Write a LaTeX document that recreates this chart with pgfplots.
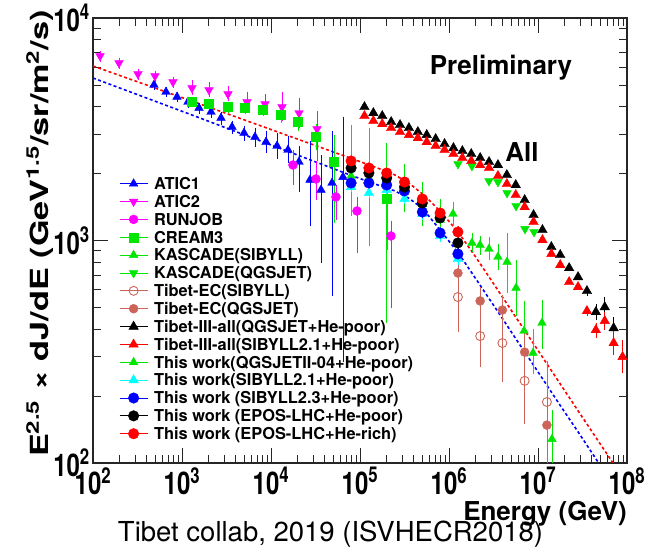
\documentclass[border=0pt]{standalone}
\usepackage{fontspec}
\setmainfont{TeX Gyre Heros}
\usepackage{graphicx}
\usepackage{pgfplots}
\pgfplotsset{compat=1.18}
\definecolor{cblue}{RGB}{0,0,255}
\definecolor{cmag}{RGB}{255,0,255}
\definecolor{cgreen}{RGB}{0,230,0}
\definecolor{cec}{RGB}{205,100,90}
\definecolor{cred}{RGB}{255,0,0}
\definecolor{ccyan}{RGB}{0,255,255}
\newcommand{\tl}[1]{\scalebox{1}[1.3]{10\textsuperscript{#1}}}
\begin{document}
\begin{tikzpicture}[x=1pt,y=1pt]
\useasboundingbox (0,0) rectangle (654,549);
\begin{axis}[
  at={(93pt,86pt)}, anchor=south west,
  width=534pt, height=445pt, scale only axis,
  xmode=log, ymode=log,
  xmin=100, xmax=1e8, ymin=100, ymax=1e4,
  axis line style={line width=1.1pt, black!85},
  tick style={line width=0.8pt, black!85},
  major tick length=15pt, minor tick length=8pt,
  tick align=inside,
  xtick={1e2,1e3,1e4,1e5,1e6,1e7,1e8},
  xticklabels={\tl{2},\tl{3},\tl{4},\tl{5},\tl{6},\tl{7},\tl{8}},
  ytick={1e2,1e3,1e4},
  yticklabels={\tl{2},\tl{3},\tl{4}},
  minor xtick={2e2,3e2,4e2,5e2,6e2,7e2,8e2,9e2,2e3,3e3,4e3,5e3,6e3,7e3,8e3,9e3,2e4,3e4,4e4,5e4,6e4,7e4,8e4,9e4,2e5,3e5,4e5,5e5,6e5,7e5,8e5,9e5,2e6,3e6,4e6,5e6,6e6,7e6,8e6,9e6,2e7,3e7,4e7,5e7,6e7,7e7,8e7,9e7},
  minor ytick={200,300,400,500,600,700,800,900,2000,3000,4000,5000,6000,7000,8000,9000},
  xticklabel style={font=\bfseries\fontsize{24}{24}\selectfont, inner sep=0pt, yshift=-4pt},
  yticklabel style={font=\bfseries\fontsize{24}{24}\selectfont, inner sep=3pt},
  error bars/error bar style={line width=0.6pt},
  error bars/error mark options={mark size=1.5pt, line width=0.6pt},
  legend image code/.code={
    \draw[solid, line width=0.8pt] (0pt,0pt) -- (28pt,0pt);
    \draw[mark repeat=2,mark phase=2] plot coordinates {(0pt,0pt) (14pt,0pt) (28pt,0pt)};
  },
  legend cell align=left,
  legend style={at={(0.0487,0.641)}, anchor=north west, draw=none, fill=none,
    inner sep=0pt, row sep=6.36pt,
    font=\bfseries\fontsize{16.4}{16.4}\selectfont,
    nodes={inner sep=0pt, text height=11.5pt, text depth=0pt},
    /tikz/every odd column/.append style={column sep=6pt}},
]
% fit lines
\addplot[forget plot, cred, line width=1.6pt, dash pattern=on 3pt off 2.5pt] coordinates {
(100,6085) (1593,4108) (21170,2830) (77200,2349) (147400,2139) (247400,1970) (364700,1795) (537500,1585) (813300,1343) (1.262e6,1092) (1.960e6,852) (3.288e6,625) (5.515e6,458) (9.254e6,336) (1.552e7,246) (2.604e7,180) (4.369e7,132) (6.962e7,100)};
\addplot[forget plot, cblue, line width=1.6pt, dash pattern=on 3pt off 2.5pt] coordinates {
(100,5375) (1593,3552) (21170,2398) (77200,1970) (147400,1795) (247400,1669) (364700,1537) (510500,1385) (813300,1103) (1.295e6,870) (2.23e6,631) (3.741e6,463) (6.28e6,339) (1.053e7,249) (1.767e7,182) (2.965e7,134) (4.723e7,101)};
% ATIC1
\addplot[cblue, only marks, mark=triangle*, mark size=5pt, error bars/.cd, y dir=both, y explicit] table[x=x,y=y,y error plus=ep,y error minus=em] {
x y ep em
484 5000 155 155
661 4650 146 146
879 4418 139 139
1167 4194 175 175
1552 3940 166 166
2118 3781 160 160
2743 3552 185 185
3646 3236 168 168
4975 3041 190 190
6610 2918 252 232
8790 2771 302 272
11680 2659 351 310
15520 2552 337 298
20630 2254 351 568
27420 1872 872 697
36450 1688 685 887
48450 1813 1229 1244
64400 1928 1622 1638
};
\addlegendentry{ATIC1}
% ATIC2
\addplot[cmag, only marks, mark=triangle*, mark size=5pt, mark options={rotate=180}, error bars/.cd, y dir=both, y explicit] table[x=x,y=y,y error plus=ep,y error minus=em] {
x y ep em
120 6750 280 280
196 6278 262 262
320 5603 234 234
497 5488 229 229
792 5156 215 215
1295 4847 310 292
2011 4747 304 286
3288 4554 292 274
5376 4194 361 333
8561 4108 354 326
13290 3981 573 501
20640 3741 539 471
32880 3171 609 870
};
\addlegendentry{ATIC2}
% RUNJOB
\addplot[cmag, only marks, mark=*, mark size=4.5pt, error bars/.cd, y dir=both, y explicit] table[x=x,y=y,y error plus=ep,y error minus=em] {
x y ep em
17660 2184 315 372
32030 1890 340 353
53700 1569 171 307
92500 1357 195 469
222800 1048 162 545
};
\addlegendentry{RUNJOB}
% CREAM3
\addplot[cgreen, only marks, mark=square*, mark size=4.5pt, error bars/.cd, y dir=both, y explicit] table[x=x,y=y,y error plus=ep,y error minus=em] {
x y ep em
1295 4194 170 170
2011 4108 167 167
3288 3981 162 162
5105 3940 160 160
8128 3859 157 157
12950 3664 235 221
20110 3409 294 271
32030 2919 385 340
51050 2254 665 1042
201100 1537 354 621
};
\addlegendentry{CREAM3}
% KASCADE SIBYLL
\addplot[cgreen, only marks, mark=triangle*, mark size=5pt, error bars/.cd, y dir=both, y explicit] table[x=x,y=y,y error plus=ep,y error minus=em] {
x y ep em
1.81e6 975 84 77
2.23e6 954 82 76
2.81e6 916 100 90
3.55e6 843 111 98
4.49e6 801 258 214
5.67e6 612 189 149
6.97e6 392 137 93
8.79e6 312 80 58
1.109e7 426 104 97
1.435e7 128 43 35
};
\addlegendentry{KASCADE(SIBYLL)}
% KASCADE QGSJET
\addplot[cgreen, only marks, mark=triangle*, mark size=5pt, mark options={rotate=180}] table[x=x,y=y] {
x y
1.262e6 2207
1.81e6 2162
2.81e6 1851
3.55e6 1832
4.49e6 1635
5.67e6 1429
7.14e6 1127
9.02e6 1092
};
\addlegendentry{KASCADE(QGSJET)}
% Tibet-EC SIBYLL
\addplot[cec, only marks, mark=o, mark size=4.5pt, mark options={line width=0.9pt}, error bars/.cd, y dir=both, y explicit] table[x=x,y=y,y error plus=ep,y error minus=em] {
x y ep em
1.259e6 557 128 161
2.239e6 372 125 99
3.981e6 346 194 110
7.079e6 234 88 82
1.259e7 188 96 88
};
\addlegendentry{Tibet-EC(SIBYLL)}
% Tibet-EC QGSJET
\addplot[cec, only marks, mark=*, mark size=4.5pt, error bars/.cd, y dir=both, y explicit] table[x=x,y=y,y error plus=ep,y error minus=em] {
x y ep em
1.259e6 714 62 57
2.239e6 535 71 62
3.981e6 487 76 66
7.079e6 315 65 54
1.259e7 148 34 50
};
\addlegendentry{Tibet-EC(QGSJET)}
% Tibet-III black
\addplot[black, only marks, mark=triangle*, mark size=5.5pt, error bars/.cd, y dir=both, y explicit] table[x=x,y=y,y error plus=ep,y error minus=em] {
x y ep em
1.122e5 3981 0 0
1.413e5 3741 0 0
1.778e5 3628 0 0
2.239e5 3409 0 0
2.818e5 3305 0 0
3.548e5 3204 0 0
4.467e5 3074 0 0
5.623e5 2981 0 0
7.079e5 2859 0 0
8.913e5 2715 0 0
1.122e6 2604 0 0
1.413e6 2525 0 0
1.778e6 2448 0 0
2.239e6 2349 0 0
2.818e6 2254 0 0
3.548e6 2184 0 0
4.467e6 1970 0 0
5.623e6 1776 0 0
7.079e6 1521 0 0
8.913e6 1302 0 0
1.122e7 1115 0 0
1.413e7 935 0 0
1.778e7 861 0 0
2.239e7 752 0 0
2.818e7 685 0 0
3.548e7 593 20 20
4.467e7 477 31 29
5.623e7 502 49 45
7.079e7 404 40 36
};
\addlegendentry{Tibet-III-all(QGSJET+He-poor)}
% Tibet-III red
\addplot[cred, only marks, mark=triangle*, mark size=5.5pt, error bars/.cd, y dir=both, y explicit] table[x=x,y=y,y error plus=ep,y error minus=em] {
x y ep em
1.122e5 3628 0 0
1.413e5 3445 0 0
1.778e5 3338 0 0
2.239e5 3204 0 0
2.818e5 3074 0 0
3.548e5 2981 0 0
4.467e5 2888 0 0
5.623e5 2771 0 0
7.079e5 2659 0 0
8.913e5 2552 0 0
1.122e6 2448 0 0
1.413e6 2349 0 0
1.778e6 2277 0 0
2.239e6 2184 0 0
2.818e6 2118 0 0
3.548e6 1950 0 0
4.467e6 1795 0 0
5.623e6 1602 0 0
7.079e6 1414 0 0
8.913e6 1211 0 0
1.122e7 1005 0 0
1.413e7 870 0 0
1.778e7 776 0 0
2.239e7 651 0 0
2.818e7 618 0 0
3.548e7 482 15 15
4.467e7 396 25 24
5.623e7 435 37 34
7.079e7 346 38 34
8.913e7 300 50 43
};
\addlegendentry{Tibet-III-all(SIBYLL2.1+He-poor)}
% This work QGSJETII-04
\addplot[cgreen, only marks, mark=triangle*, mark size=5pt, error bars/.cd, y dir=both, y explicit] table[x=x,y=y,y error plus=ep,y error minus=em] {
x y ep em
79430 1950 1287 647
125900 1910 1229 955
199500 1872 816 1441
316200 1758 404 401
501200 1459 336 273
794300 1236 284 231
1.109e6 1316 143 129
};
\addlegendentry{This work(QGSJETII-04+He-poor)}
% This work SIBYLL2.1
\addplot[ccyan, only marks, mark=triangle*, mark size=5.5pt, error bars/.cd, y dir=both, y explicit] table[x=x,y=y,y error plus=ep,y error minus=em] {
x y ep em
79430 1739 70 70
125900 1635 65 65
199500 1688 68 68
316200 1537 62 62
501200 1316 55 55
794300 1048 45 45
1258900 826 38 38
};
\addlegendentry{This work(SIBYLL2.1+He-poor)}
% This work SIBYLL2.3
\addplot[cblue, only marks, mark=*, mark size=5.3pt, error bars/.cd, y dir=both, y explicit] table[x=x,y=y,y error plus=ep,y error minus=em] {
x y ep em
79430 1813 70 70
125900 1813 70 70
199500 1776 68 68
316200 1670 65 65
501200 1343 55 55
794300 1081 45 45
1258900 870 40 40
};
\addlegendentry{This work (SIBYLL2.3+He-poor)}
% This work EPOS He-poor
\addplot[black, only marks, mark=*, mark size=5.3pt, error bars/.cd, y dir=both, y explicit] table[x=x,y=y,y error plus=ep,y error minus=em] {
x y ep em
79430 2118 80 80
125900 2011 78 78
199500 1910 75 75
316200 1739 68 68
501200 1474 60 60
794300 1263 52 52
1258900 975 45 45
};
\addlegendentry{This work (EPOS-LHC+He-poor)}
% This work EPOS He-rich
\addplot[cred, only marks, mark=*, mark size=5.3pt, error bars/.cd, y dir=both, y explicit] table[x=x,y=y,y error plus=ep,y error minus=em] {
x y ep em
79430 2277 85 85
125900 2118 80 80
199500 2011 78 78
316200 1832 70 70
501200 1537 62 62
794300 1329 55 55
1258900 1092 50 50
};
\addlegendentry{This work (EPOS-LHC+He-rich)}
\end{axis}
\node[font=\bfseries\fontsize{26}{26}\selectfont] at (501,481) {Preliminary};
\node[font=\bfseries\fontsize{26}{26}\selectfont] at (522,397) {All};
\node[font=\bfseries\fontsize{26}{26}\selectfont, anchor=base east, inner sep=0pt] at (627,28) {Energy (GeV)};
\node[font=\fontsize{27.5}{27.5}\selectfont, anchor=base, inner sep=0pt] at (330.5,7) {Tibet collab, 2019 (ISVHECR2018)};
\node[font=\bfseries\fontsize{25}{25}\selectfont, rotate=90, anchor=base, inner sep=0pt] at (48,315.5) {\scalebox{1.37}[1]{E\textsuperscript{2.5} × dJ/dE (GeV\textsuperscript{1.5}/sr/m\textsuperscript{2}/s)}};
\end{tikzpicture}
\end{document}
